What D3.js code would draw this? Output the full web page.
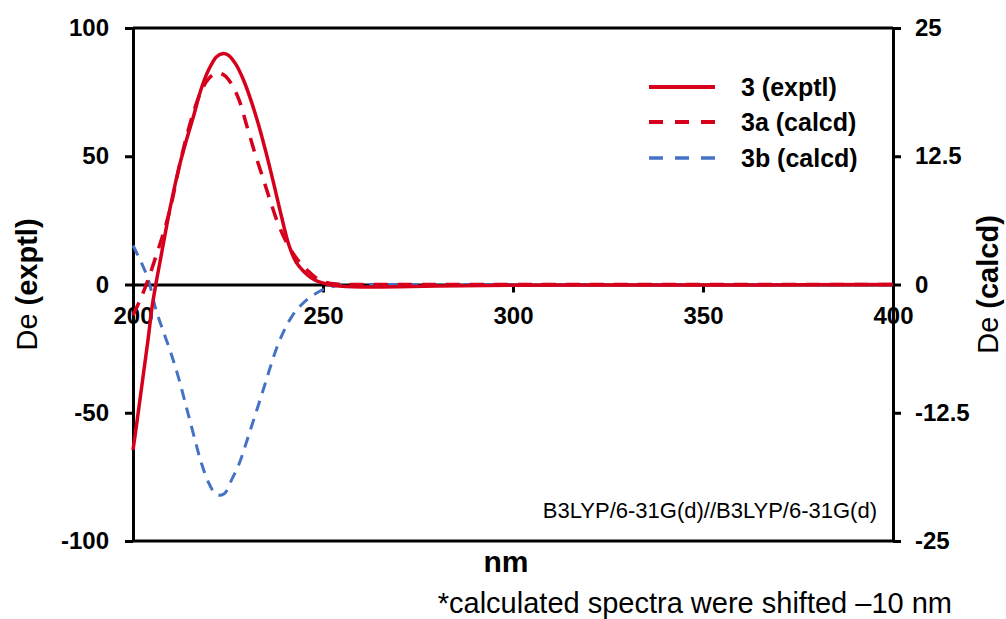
<!DOCTYPE html>
<html>
<head>
<meta charset="utf-8">
<script src="https://cdn.jsdelivr.net/npm/d3@7"></script>
<style>
  body { margin: 0; background: #fff; }
  text { font-family: "Liberation Sans", Arial, sans-serif; fill: #000; }
</style>
</head>
<body>
<script>
// CD spectra: experimental vs calculated (two conformers)
var wavelengthExptl = [200, 201, 202, 203, 204, 205, 206, 207, 208, 209, 210, 212, 214, 216, 218, 220, 222, 223.5, 225, 227, 229, 231, 233, 235, 237, 239, 241, 243, 245, 247, 249, 251, 253, 256, 260, 270, 280, 300, 330, 360, 400];
var exptl = [-64.5, -54, -43, -32, -21, -9, 0, 8, 16, 24, 31.5, 45, 56, 66, 76.5, 84, 88.8, 90, 89.5, 86, 80, 72, 62.5, 51.5, 39.5, 27, 15.5, 8.5, 5, 2.5, 1.0, 0.2, -0.4, -0.8, -1.0, -0.9, -0.6, -0.3, -0.2, -0.2, 0];

var wavelengthCalcd = [200, 202, 204, 206, 208, 210, 212, 214, 216, 218, 220, 222, 224, 226, 228, 230, 232, 234, 236, 238, 240, 242, 244, 246, 248, 250, 252, 254, 256, 260, 280, 300, 320, 340, 360, 380, 400];
var calcd3a = [-3.0, -1.4, 0.5, 2.7, 5.0, 7.7, 11.2, 14.3, 16.9, 18.9, 20.1, 20.6, 20.4, 19.5, 17.9, 15.4, 12.9, 10.6, 8.3, 6.1, 4.4, 3.1, 2.1, 1.35, 0.7, 0.3, 0.1, 0.03, 0, 0, 0, 0, 0, 0, 0, 0, 0];
var calcd3b = [3.8, 2.3, 0.5, -2.4, -4.6, -6.7, -9.1, -11.9, -14.7, -17.4, -19.4, -20.5, -20.4, -19.0, -17.4, -15.2, -12.9, -10.6, -8.2, -6.0, -4.3, -3.0, -2.1, -1.4, -0.9, -0.5, -0.25, -0.08, 0, 0, 0, 0, 0, 0, 0, 0, 0];

var xTicks = [200, 250, 300, 350, 400];
var leftTicks = [-100, -50, 0, 50, 100];
var rightTicks = [-25, -12.5, 0, 12.5, 25];

var legendLabels = ["3 (exptl)", "3a (calcd)", "3b (calcd)"];

(function() {
  var red = "#d6001c", blue = "#4472c4";

  var width = 1006, height = 619;
  var pLeft = 133, pRight = 893, pTop = 28, pBottom = 541;

  var svg = d3.select("body").append("svg")
      .attr("width", width)
      .attr("height", height);

  var x = d3.scaleLinear().domain([200, 400]).range([pLeft, pRight]);
  var yL = d3.scaleLinear().domain([-100, 100]).range([pBottom, pTop]);
  var yR = d3.scaleLinear().domain([-25, 25]).range([pBottom, pTop]);

  function fmt(d) { return String(d); }

  // frame top / bottom
  svg.append("line").attr("x1", pLeft).attr("x2", pRight).attr("y1", pTop).attr("y2", pTop)
      .attr("stroke", "#000").attr("stroke-width", 3);
  svg.append("line").attr("x1", pLeft).attr("x2", pRight).attr("y1", pBottom).attr("y2", pBottom)
      .attr("stroke", "#000").attr("stroke-width", 3);

  var gL = svg.append("g").attr("transform", "translate(" + pLeft + ",0)")
      .call(d3.axisLeft(yL).tickValues(leftTicks).tickFormat(fmt).tickSize(8).tickSizeOuter(0).tickPadding(16));
  var gR = svg.append("g").attr("transform", "translate(" + pRight + ",0)")
      .call(d3.axisRight(yR).tickValues(rightTicks).tickFormat(fmt).tickSize(8).tickSizeOuter(0).tickPadding(14));
  var gX = svg.append("g").attr("transform", "translate(0," + yL(0) + ")")
      .call(d3.axisBottom(x).tickValues(xTicks).tickFormat(fmt).tickSize(8).tickSizeOuter(0).tickPadding(14.5));

  [gL, gR, gX].forEach(function(g) {
    g.selectAll("path.domain").attr("stroke", "#000").attr("stroke-width", 3);
    g.selectAll(".tick line").attr("stroke", "#000").attr("stroke-width", 3);
    g.selectAll(".tick text").attr("font-size", 24).attr("font-weight", "bold")
      .attr("font-family", "Liberation Sans, Arial, sans-serif").attr("fill", "#000");
  });

  // axis titles
  var tl = svg.append("text").attr("transform", "translate(37," + yL(0) + ") rotate(-90)")
      .attr("text-anchor", "middle").attr("font-size", 29);
  tl.append("tspan").text("De ");
  tl.append("tspan").attr("font-weight", "bold").text("(exptl)");

  var tr = svg.append("text").attr("transform", "translate(998," + yL(0) + ") rotate(-90)")
      .attr("text-anchor", "middle").attr("font-size", 29);
  tr.append("tspan").text("De ");
  tr.append("tspan").attr("font-weight", "bold").text("(calcd)");

  svg.append("text").attr("x", 506).attr("y", 572).attr("text-anchor", "middle")
      .attr("font-size", 30).attr("font-weight", "bold").text("nm");

  svg.append("text").attr("x", 877).attr("y", 518).attr("text-anchor", "end")
      .attr("font-size", 22).text("B3LYP/6-31G(d)//B3LYP/6-31G(d)");

  svg.append("text").attr("x", 952).attr("y", 613).attr("text-anchor", "end")
      .attr("font-size", 29).text("*calculated spectra were shifted \u201310 nm");

  // curves
  var series = [
    { xs: wavelengthCalcd, ys: calcd3b, y: yR, color: blue, w: 3, dash: "11,8" },
    { xs: wavelengthCalcd, ys: calcd3a, y: yR, color: red, w: 3.5, dash: "14,10" },
    { xs: wavelengthExptl, ys: exptl, y: yL, color: red, w: 3.5, dash: null }
  ];

  series.forEach(function(s) {
    var line = d3.line()
        .x(function(d, i) { return x(s.xs[i]); })
        .y(function(d) { return s.y(d); })
        .curve(d3.curveCatmullRom.alpha(0.5));
    svg.append("path")
        .attr("d", line(s.ys))
        .attr("fill", "none")
        .attr("stroke", s.color)
        .attr("stroke-width", s.w)
        .attr("stroke-dasharray", s.dash);
  });

  // legend
  var legendStyle = [
    { color: red, w: 4, dash: null },
    { color: red, w: 4, dash: "14,12" },
    { color: blue, w: 3.5, dash: "14,12" }
  ];
  var legendY = [87, 122, 158];
  legendLabels.forEach(function(label, i) {
    svg.append("line").attr("x1", 649).attr("x2", 715).attr("y1", legendY[i]).attr("y2", legendY[i])
        .attr("stroke", legendStyle[i].color).attr("stroke-width", legendStyle[i].w)
        .attr("stroke-dasharray", legendStyle[i].dash);
    svg.append("text").attr("x", 741).attr("y", legendY[i] + 9).attr("font-size", 25)
        .attr("font-weight", "bold").text(label);
  });
})();
</script>
</body>
</html>
